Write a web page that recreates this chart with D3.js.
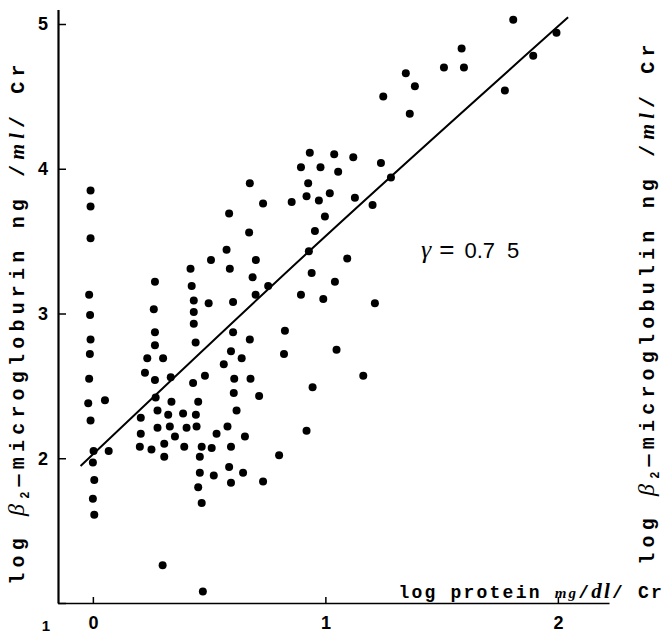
<!DOCTYPE html>
<html>
<head>
<meta charset="utf-8">
<script src="https://cdn.jsdelivr.net/npm/d3@7"></script>
<style>
  html, body { margin: 0; padding: 0; background: #fff; }
  svg { display: block; }
</style>
</head>
<body>
<svg id="chart" width="667" height="637"></svg>
<script>
// ---- data ----
const proteinLog = [
  -0.01,-0.01,-0.01,0.586,0.575,0.508,0.589,0.42,0.267,0.425,
  -0.016,0.434,0.498,0.603,0.262,0.434,-0.012,0.434,0.603,0.267,
  -0.01,0.442,0.267,0.594,-0.013,0.234,0.302,0.563,0.335,-0.016,
  0.224,0.267,0.431,0.482,0.608,-0.02,0.052,0.27,0.338,0.453,
  0.606,0.278,0.324,0.388,0.443,0.618,0.206,-0.01,0.206,0.278,
  0.331,0.403,0.446,0.579,0.532,0.353,0.202,0.252,0.307,0.393,
  0.468,0.511,0.594,0.003,0.068,0.307,0.46,0.0,0.46,0.52,
  0.586,0.594,0.006,0.453,0.0,0.468,0.006,0.933,1.038,1.12,
  1.239,0.895,0.979,1.055,0.675,0.926,0.919,0.972,1.019,1.127,
  1.203,0.732,0.855,0.998,1.282,0.672,0.955,0.929,0.701,1.094,
  0.687,0.941,0.754,1.041,0.70,0.895,0.991,1.213,0.675,0.826,
  1.048,0.64,0.822,1.163,0.678,0.945,0.715,0.919,0.654,0.801,
  0.646,0.732,1.808,1.994,1.586,1.51,1.596,1.346,1.385,1.894,
  1.249,1.363,1.772,0.30,0.473
];
const b2mLog = [
  3.85,3.74,3.52,3.69,3.44,3.37,3.31,3.31,3.22,3.19,
  3.13,3.09,3.07,3.08,3.03,3.01,2.99,2.93,2.87,2.87,
  2.82,2.80,2.78,2.74,2.72,2.69,2.69,2.65,2.56,2.55,
  2.59,2.54,2.52,2.57,2.55,2.38,2.40,2.42,2.39,2.39,
  2.45,2.33,2.30,2.31,2.30,2.33,2.28,2.26,2.17,2.21,
  2.22,2.21,2.22,2.22,2.17,2.15,2.08,2.06,2.10,2.08,
  2.08,2.07,2.08,2.05,2.05,2.01,2.01,1.97,1.90,1.88,
  1.94,1.83,1.85,1.80,1.72,1.69,1.61,4.11,4.10,4.08,
  4.04,4.01,4.01,3.98,3.90,3.90,3.81,3.78,3.83,3.80,
  3.75,3.76,3.77,3.67,3.94,3.56,3.57,3.43,3.37,3.38,
  3.25,3.28,3.19,3.22,3.13,3.13,3.10,3.07,2.82,2.88,
  2.75,2.69,2.72,2.57,2.55,2.49,2.43,2.19,2.15,2.02,
  1.90,1.84,5.03,4.94,4.83,4.70,4.70,4.66,4.57,4.78,
  4.50,4.38,4.54,1.26,1.08
];
// regression line as drawn (three points read along it)
const fitX = [-0.053, 0.93, 2.044];
const fitY = [1.946, 3.43, 5.046];

const xTicks = [0, 1, 2];
const yTicks = [1, 2, 3, 4, 5];
const rText = "0.7 5";

// ---- layout ----
const svg = d3.select("#chart");
const x = d3.scaleLinear().domain([-0.15, 2.22]).range([58, 58 + 2.37 * 232.5]);
const y = d3.scaleLinear().domain([1, 5.1]).range([603, 603 - 4.1 * 144.75]);

const mono = "'Liberation Mono','DejaVu Sans Mono',monospace";
const sans = "'Liberation Sans',Arial,sans-serif";
const serif = "'Liberation Serif','DejaVu Serif',serif";

// axes
const gy = svg.append("g").attr("transform", `translate(${x.range()[0]},0)`)
  .call(d3.axisLeft(y).tickValues(yTicks).tickFormat(d3.format("d"))
    .tickSizeInner(-8).tickSizeOuter(0).tickPadding(10));
gy.select(".domain").attr("stroke", "#000").attr("stroke-width", 2.2);
gy.selectAll(".tick line").attr("stroke", "#000").attr("stroke-width", 1.5);
gy.selectAll(".tick text").attr("font-family", sans).attr("font-size", 18)
  .attr("fill", "#000").attr("font-weight", "bold");
// the lowest label sits below the corner in the original
gy.selectAll(".tick").filter(d => d === yTicks[0]).select("text")
  .attr("font-size", 15).attr("dy", "1.8em").attr("x", -8);

const gx = svg.append("g").attr("transform", `translate(0,${y(1)})`)
  .call(d3.axisBottom(x).tickValues(xTicks).tickFormat(d3.format("d"))
    .tickSizeInner(-6).tickSizeOuter(0).tickPadding(13));
gx.select(".domain").attr("stroke", "#000").attr("stroke-width", 1.6);
gx.selectAll(".tick line").attr("stroke", "#000").attr("stroke-width", 1.5);
gx.selectAll(".tick text").attr("font-family", sans).attr("font-size", 18)
  .attr("fill", "#000").attr("font-weight", "bold");

// regression line
const fit = fitX.map((d, i) => [d, fitY[i]]);
svg.append("path")
  .datum(fit)
  .attr("fill", "none").attr("stroke", "#000").attr("stroke-width", 2)
  .attr("d", d3.line().x(d => x(d[0])).y(d => y(d[1])).curve(d3.curveMonotoneX));

// points
const pts = proteinLog.map((d, i) => [d, b2mLog[i]]);
svg.append("g").selectAll("circle").data(pts).join("circle")
  .attr("cx", d => x(d[0])).attr("cy", d => y(d[1]))
  .attr("r", 4).attr("fill", "#000");

// r label
const rParts = rText.split(" ");
const rt = svg.append("text").attr("x", 421).attr("y", 258)
  .attr("font-family", sans).attr("font-size", 22).attr("fill", "#000");
rt.append("tspan").attr("font-family", serif).attr("font-style", "italic").attr("font-size", 26).text("γ");
rt.append("tspan").attr("dx", 8).attr("font-size", 26).text("=");
rt.append("tspan").attr("dx", 10).text(rParts[0]);
rt.append("tspan").attr("dx", 12).text(rParts[1]);

// y-axis titles (left and right)
function yTitle(cx, cy, word) {
  const t = svg.append("text")
    .attr("transform", `translate(${cx},${cy}) rotate(-90)`)
    .attr("text-anchor", "middle")
    .attr("font-family", mono).attr("font-size", 20).attr("font-weight", "bold")
    .attr("letter-spacing", 5.2).attr("fill", "#000");
  t.append("tspan").text("log ");
  t.append("tspan").attr("font-family", serif).attr("font-style", "italic").attr("font-size", 24).attr("font-weight", "normal").text("β");
  t.append("tspan").attr("font-size", 12).attr("dy", 5).text("2");
  t.append("tspan").attr("dy", -5).text("—" + word + " ng /");
  t.append("tspan").attr("font-family", serif).attr("font-style", "italic").text("ml");
  t.append("tspan").text("/ Cr");
}
yTitle(24, 322, "microgloburin");
yTitle(654, 302, "microglobulin");

// x-axis title
const xt = svg.append("text").attr("x", 664).attr("y", 598)
  .attr("text-anchor", "end").attr("font-family", mono).attr("font-size", 18)
  .attr("font-weight", "bold")
  .attr("letter-spacing", 2.2).attr("fill", "#000");
xt.append("tspan").text("log protein ");
xt.append("tspan").attr("font-family", serif).attr("font-style", "italic").attr("font-size", 15).text("mg");
xt.append("tspan").text("/");
xt.append("tspan").attr("font-family", serif).attr("font-style", "italic").attr("font-size", 21).text("dl");
xt.append("tspan").text("/ Cr");
</script>
</body>
</html>
